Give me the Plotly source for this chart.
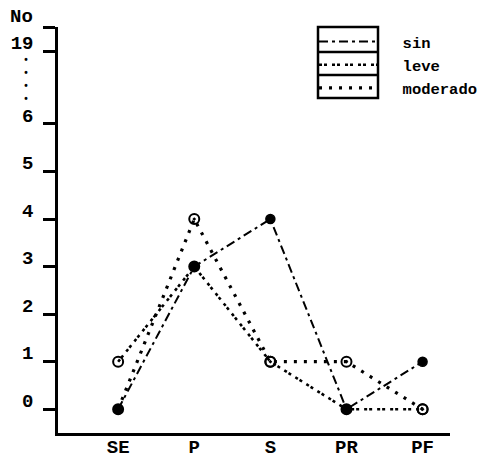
import plotly.graph_objects as go

categories = ["SE", "P", "S", "PR", "PF"]
sin = [0, 3, 4, 0, 1]
leve = [1, 3, 1, 0, 0]
moderado = [0, 4, 1, 1, 0]
series_names = ["sin", "leve", "moderado"]
ytick_vals = [0, 1, 2, 3, 4, 5, 6, 7.52, 8.04]
ytick_text = ["0", "1", "2", "3", "4", "5", "6", "19", ""]

FONT = dict(family="Liberation Mono", color="black", size=19, weight="bold")

W, H = 497, 453
L, R, T, B = 58, 47, 27, 20
PW, PH = W - L - R, H - T - B

def px_x(p):  # page px -> paper
    return (p - L) / PW

def px_y(p):
    return (H - B - p) / PH

styles = {
    "sin": dict(dash="9px,4px,3px,4px", width=2),
    "leve": dict(dash="3px,2px,3px,5px", width=2.6),
    "moderado": dict(dash="3px,7px", width=3.2),
}
markers = {
    "sin": dict(symbol="circle", size=9, color="black", line=dict(color="black", width=1.5)),
    "leve": dict(symbol="circle-open", size=10, color="black", line=dict(color="black", width=2)),
    "moderado": dict(symbol="circle-open-dot", size=10, color="black", line=dict(color="black", width=2)),
}

fig = go.Figure()
for name, vals in zip(series_names, [sin, leve, moderado]):
    fig.add_trace(go.Scatter(
        x=categories, y=vals, mode="lines+markers", name=name,
        line=dict(color="black", **styles[name]), marker=markers[name],
        showlegend=False,
    ))
for name in series_names:
    fig.add_trace(go.Scatter(
        x=[None], y=[None], mode="lines", name="\u00a0\u00a0" + name,
        line=dict(color="black", **styles[name]),
    ))

shapes = [
    dict(type="rect", xref="paper", yref="paper", x0=px_x(318), x1=px_x(378),
         y0=px_y(98), y1=px_y(27), line=dict(color="black", width=2.5)),
    dict(type="line", xref="paper", yref="paper", x0=px_x(318), x1=px_x(378),
         y0=px_y(52), y1=px_y(52), line=dict(color="black", width=2.5)),
    dict(type="line", xref="paper", yref="paper", x0=px_x(318), x1=px_x(378),
         y0=px_y(75), y1=px_y(75), line=dict(color="black", width=2.5)),
]

annotations = [
    dict(text="No", xref="paper", yref="paper", x=px_x(21), y=px_y(17),
         showarrow=False, font=FONT, xanchor="center", yanchor="middle"),
    dict(text="•<br>•<br>•<br>•", xref="paper", yref="paper", x=px_x(26), y=px_y(80),
         showarrow=False, font=dict(family="Liberation Mono", color="black", size=10),
         xanchor="center", yanchor="middle"),
]

fig.update_layout(
    width=W, height=H,
    margin=dict(l=L, r=R, t=T, b=B),
    paper_bgcolor="white", plot_bgcolor="white",
    font=FONT,
    shapes=shapes,
    annotations=annotations,
    legend=dict(x=px_x(314), y=px_y(25), xanchor="left", yanchor="top",
                bgcolor="rgba(0,0,0,0)", borderwidth=0, itemwidth=60,
                font=dict(family="Liberation Mono", color="black", size=15.5, weight="bold"),
                tracegroupgap=0),
    xaxis=dict(range=[-0.79, 4.36], showgrid=False, zeroline=False, automargin=False,
               showline=True, linecolor="black", linewidth=2.5,
               ticks="", ticklabelstandoff=-6, tickfont=FONT),
    yaxis=dict(range=[-0.5, 8.04], showgrid=False, zeroline=False, automargin=False,
               showline=True, linecolor="black", linewidth=2.5,
               tickmode="array", tickvals=ytick_vals, ticktext=ytick_text,
               ticks="outside", ticklen=12, tickwidth=2.5, tickcolor="black",
               ticklabelstandoff=6, ticklabelshift=-9, tickfont=FONT),
)

fig.write_html("out.html", config={"displayModeBar": False},
               post_script="document.body.style.margin='0';document.body.style.overflow='hidden';")
